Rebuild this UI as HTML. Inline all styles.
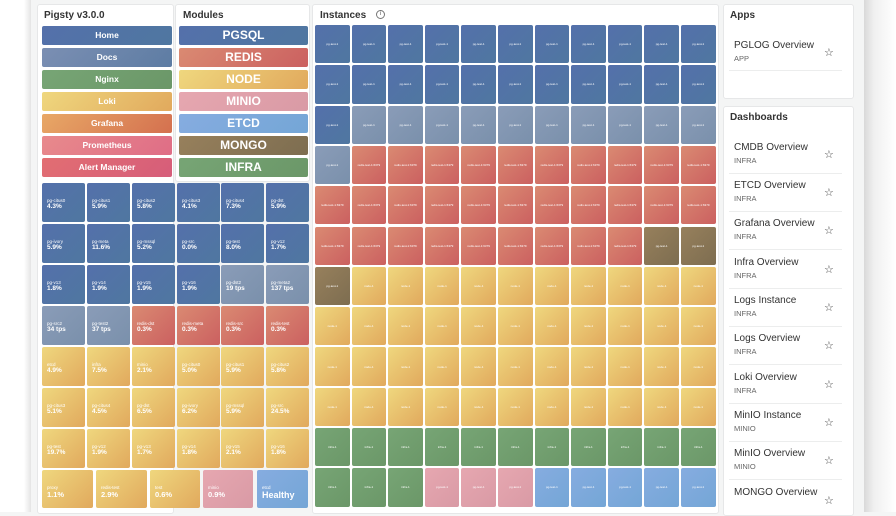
<!DOCTYPE html>
<html><head><meta charset="utf-8"><style>
*{box-sizing:border-box;margin:0;padding:0}
body{width:896px;height:512px;overflow:hidden;background:#f4f5f5;font-family:"Liberation Sans",sans-serif;position:relative}
.lw{position:absolute;left:0;top:0;width:31px;height:512px;background:linear-gradient(90deg,#fff 0,#fff 24px,#e4e4e4 31px)}
.rw{position:absolute;left:864px;top:0;width:32px;height:512px;background:linear-gradient(90deg,#d9d9d9 0,#f0f0f0 10px,#fff 32px)}
.p{position:absolute;background:#fff;border:1px solid #e6e7e8;border-radius:3px}
.h{position:absolute;font-size:10px;font-weight:bold;color:#333}
.b{position:absolute;height:19px;border-radius:2px;color:#fff;text-align:center;font-weight:bold}
.s{font-size:8.5px;line-height:19px}
.m{font-size:12px;line-height:19px}
.c{position:absolute;border-radius:2px;color:#fff;overflow:hidden}
.c i{position:absolute;left:5px;top:15px;font-style:normal;font-size:4.5px}
.c b{position:absolute;left:5px;top:20px;font-size:6.5px}
.bl{background:linear-gradient(135deg,#5470ab,#4f77a0)}
.gr{background:linear-gradient(135deg,#8a9cb8,#7a90ab)}
.rd{background:linear-gradient(135deg,#da8a72,#cb6060)}
.yl{background:linear-gradient(135deg,#efd77e,#e1a95d)}
.gn{background:linear-gradient(135deg,#77a575,#6b9768)}
.pk{background:linear-gradient(135deg,#e6a7b0,#d99aa5)}
.lb{background:linear-gradient(135deg,#86ace0,#74a6d6)}
.br{background:linear-gradient(135deg,#97805c,#7d6d50)}
.or{background:linear-gradient(135deg,#e8a866,#d4704f)}
.pr{background:linear-gradient(135deg,#e88a8c,#df6d86)}
.am{background:linear-gradient(135deg,#e26e72,#d65d7a)}
.ic{position:absolute;font-size:3px;color:#fff;text-align:center;border-radius:2px;display:flex;align-items:center;justify-content:center}
.it{position:absolute;left:734px;width:110px}
.it .t{font-size:10px;color:#333}
.it .u{font-size:7.5px;color:#666;margin-top:3px}
.it .st{position:absolute;left:90px;top:6px;font-size:11px;color:#444}
.sep{position:absolute;left:729px;width:113px;height:1px;background:#eceded}
</style></head><body>
<div class="lw"></div><div class="rw"></div>

<div class="p" style="left:37px;top:4px;width:137px;height:510px"></div>
<div class="h" style="left:44px;top:10px">Pigsty v3.0.0</div>
<div class="p" style="left:175px;top:4px;width:135px;height:178px"></div>
<div class="h" style="left:183px;top:10px">Modules</div>

<div class="b s bl" style="left:42px;top:26px;width:130px">Home</div>
<div class="b s gr" style="left:42px;top:48px;width:130px;background:linear-gradient(135deg,#7b8fb3,#5d7ca3)">Docs</div>
<div class="b s gn" style="left:42px;top:70px;width:130px">Nginx</div>
<div class="b s yl" style="left:42px;top:92px;width:130px">Loki</div>
<div class="b s or" style="left:42px;top:114px;width:130px">Grafana</div>
<div class="b s pr" style="left:42px;top:136px;width:130px">Prometheus</div>
<div class="b s am" style="left:42px;top:158px;width:130px">Alert Manager</div>

<div class="b m bl" style="left:179px;top:26px;width:129px">PGSQL</div>
<div class="b m rd" style="left:179px;top:48px;width:129px">REDIS</div>
<div class="b m yl" style="left:179px;top:70px;width:129px">NODE</div>
<div class="b m pk" style="left:179px;top:92px;width:129px">MINIO</div>
<div class="b m lb" style="left:179px;top:114px;width:129px">ETCD</div>
<div class="b m br" style="left:179px;top:136px;width:129px">MONGO</div>
<div class="b m gn" style="left:179px;top:158px;width:129px">INFRA</div>

<div id="st"></div>

<div class="p" style="left:312px;top:4px;width:407px;height:510px"></div>
<div class="h" style="left:320px;top:10px">Instances</div>
<div style="position:absolute;left:376px;top:10px;width:9px;height:9px;border:1px solid #777;border-radius:50%;font-size:6px;line-height:7px;text-align:center;color:#555">i</div>
<div id="ins"></div>

<div class="p" style="left:723px;top:4px;width:131px;height:95px"></div>
<div class="h" style="left:730px;top:10px">Apps</div>
<div class="it" style="top:40px"><div class="t">PGLOG Overview</div><div class="u">APP</div><div class="st">☆</div></div>
<div class="sep" style="top:70px"></div>

<div class="p" style="left:723px;top:106px;width:131px;height:410px"></div>
<div class="h" style="left:730px;top:112px">Dashboards</div>
<div class="it" style="top:142px"><div class="t">CMDB Overview</div><div class="u">INFRA</div><div class="st">☆</div></div>
<div class="sep" style="top:173px"></div>
<div class="it" style="top:180px"><div class="t">ETCD Overview</div><div class="u">INFRA</div><div class="st">☆</div></div>
<div class="sep" style="top:211px"></div>
<div class="it" style="top:218px"><div class="t">Grafana Overview</div><div class="u">INFRA</div><div class="st">☆</div></div>
<div class="sep" style="top:249px"></div>
<div class="it" style="top:257px"><div class="t">Infra Overview</div><div class="u">INFRA</div><div class="st">☆</div></div>
<div class="sep" style="top:288px"></div>
<div class="it" style="top:295px"><div class="t">Logs Instance</div><div class="u">INFRA</div><div class="st">☆</div></div>
<div class="sep" style="top:326px"></div>
<div class="it" style="top:333px"><div class="t">Logs Overview</div><div class="u">INFRA</div><div class="st">☆</div></div>
<div class="sep" style="top:364px"></div>
<div class="it" style="top:372px"><div class="t">Loki Overview</div><div class="u">INFRA</div><div class="st">☆</div></div>
<div class="sep" style="top:403px"></div>
<div class="it" style="top:410px"><div class="t">MinIO Instance</div><div class="u">MINIO</div><div class="st">☆</div></div>
<div class="sep" style="top:441px"></div>
<div class="it" style="top:448px"><div class="t">MinIO Overview</div><div class="u">MINIO</div><div class="st">☆</div></div>
<div class="sep" style="top:479px"></div>
<div class="it" style="top:487px"><div class="t">MONGO Overview</div><div class="st" style="top:7px">☆</div></div>

<script>
var cols=[42,87,132,177,221,266],cw=43,rows=[183,224,265,306,347,388,429],rh=39;
var d=[
[["bl","pg-citus0","4.3%"],["bl","pg-citus1","5.9%"],["bl","pg-citus2","5.8%"],["bl","pg-citus3","4.1%"],["bl","pg-citus4","7.3%"],["bl","pg-dst","5.9%"]],
[["bl","pg-ivory","5.9%"],["bl","pg-meta","11.6%"],["bl","pg-mssql","5.2%"],["bl","pg-src","0.0%"],["bl","pg-test","8.0%"],["bl","pg-v12","1.7%"]],
[["bl","pg-v13","1.8%"],["bl","pg-v14","1.9%"],["bl","pg-v15","1.9%"],["bl","pg-v16","1.9%"],["gr","pg-dst2","19 tps"],["gr","pg-meta2","137 tps"]],
[["gr","pg-src2","34 tps"],["gr","pg-test2","37 tps"],["rd","redis-dst","0.3%"],["rd","redis-meta","0.3%"],["rd","redis-src","0.3%"],["rd","redis-test","0.3%"]],
[["yl","etcd","4.9%"],["yl","infra","7.5%"],["yl","minio","2.1%"],["yl","pg-citus0","5.0%"],["yl","pg-citus1","5.9%"],["yl","pg-citus2","5.8%"]],
[["yl","pg-citus3","5.1%"],["yl","pg-citus4","4.5%"],["yl","pg-dst","6.5%"],["yl","pg-ivory","6.2%"],["yl","pg-mssql","5.9%"],["yl","pg-src","24.5%"]],
[["yl","pg-test","19.7%"],["yl","pg-v12","1.9%"],["yl","pg-v13","1.7%"],["yl","pg-v14","1.8%"],["yl","pg-v15","2.1%"],["yl","pg-v16","1.8%"]]];
var h="";
d.forEach(function(r,i){r.forEach(function(c,j){h+='<div class="c '+c[0]+'" style="left:'+cols[j]+'px;top:'+rows[i]+'px;width:'+cw+'px;height:'+rh+'px"><i>'+c[1]+'</i><b>'+c[2]+'</b></div>';});});
var last=[[42,51,"yl","proxy","1.1%"],[96,51,"yl","redis-test","2.9%"],[150,50,"yl","test","0.6%"],[203,50,"pk","minio","0.9%"],[257,51,"lb","etcd","Healthy"]];
last.forEach(function(c){h+='<div class="c '+c[2]+'" style="left:'+c[0]+'px;top:470px;width:'+c[1]+'px;height:38px"><i>'+c[3]+'</i><b style="font-size:'+(c[4]=="Healthy"?9:7.5)+'px">'+c[4]+'</b></div>';});
document.getElementById("st").innerHTML=h;
var seq=[];function add(c,n){for(var k=0;k<n;k++)seq.push(c);}
add("bl",23);add("gr",11);add("rd",30);add("br",3);add("yl",43);add("gn",14);add("pk",3);add("lb",5);
var g="";
for(var r=0;r<12;r++)for(var c=0;c<11;c++){var k=seq[r*11+c]||"yl";
var x=315+c*36.6,y=25+r*40.3;
g+='<div class="ic '+k+'" style="left:'+x.toFixed(1)+'px;top:'+y.toFixed(1)+'px;width:34.6px;height:38.3px">'+(k=="rd"?"redis-test-1:6379":k=="yl"?"node-1":k=="gn"?"infra-1":"pg-test-1")+'</div>';}
document.getElementById("ins").innerHTML=g;
</script>
</body></html>
